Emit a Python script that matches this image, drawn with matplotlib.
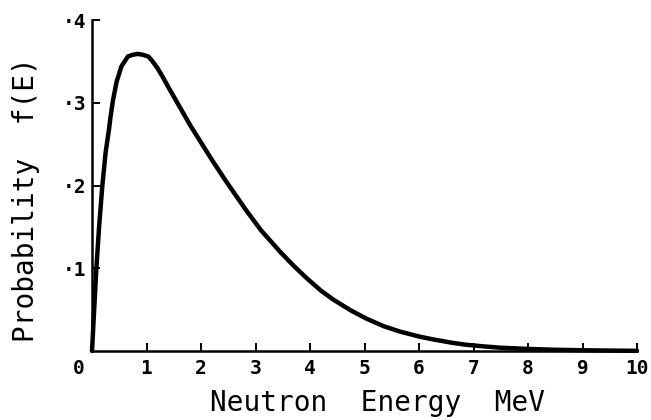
import matplotlib
matplotlib.use("Agg")
import matplotlib.pyplot as plt
from matplotlib.transforms import ScaledTranslation

# fission neutron spectrum
energy = [0.0, 0.04, 0.08, 0.13, 0.19, 0.25, 0.31, 0.34, 0.385, 0.45, 0.54, 0.66,
          0.75, 0.84, 0.93, 1.03, 1.1, 1.2, 1.3, 1.4, 1.6, 1.8, 2.0, 2.2, 2.44,
          2.65, 2.84, 3.1, 3.45, 3.7, 3.94, 4.2, 4.43, 4.75, 5.04, 5.35, 5.65,
          6.0, 6.26, 6.6, 6.87, 7.2, 7.49, 8.0, 8.5, 9.0, 9.5, 10.0]
prob = [0.0, 0.05, 0.10, 0.15, 0.20, 0.24, 0.267, 0.283, 0.303, 0.325, 0.344, 0.356,
        0.358, 0.359, 0.358, 0.356, 0.351, 0.342, 0.331, 0.319, 0.296, 0.273, 0.252, 0.231, 0.207,
        0.187, 0.169, 0.146, 0.120, 0.103, 0.088, 0.073, 0.062, 0.049, 0.039, 0.030, 0.0235,
        0.0175, 0.014, 0.010, 0.0075, 0.0055, 0.004, 0.0025, 0.0015, 0.0009, 0.0005, 0.0002]

x_ticks = list(range(0, 11))
x_labels = [str(t) for t in x_ticks]
y_ticks = [0.1, 0.2, 0.3, 0.4]
y_labels = ["·1", "·2", "·3", "·4"]

mono = "DejaVu Sans Mono"

fig = plt.figure(figsize=(6.51, 4.2), dpi=100)
ax = fig.add_axes([92 / 651, 1 - 351 / 420, 545 / 651, 331 / 420])

ax.plot(energy, prob, color="black", lw=3.2, solid_capstyle="round",
        solid_joinstyle="round", clip_on=False)

ax.set_xlim(0, 10)
ax.set_ylim(0, 0.4)
for s in ("top", "right"):
    ax.spines[s].set_visible(False)
for s in ("left", "bottom"):
    ax.spines[s].set_linewidth(1.8)

ax.set_xticks(x_ticks)
ax.set_xticklabels(x_labels, fontfamily=mono, fontsize=14, fontweight="bold")
ax.set_yticks(y_ticks)
ax.set_yticklabels(y_labels, fontfamily=mono, fontsize=14, fontweight="bold")
ax.tick_params(axis="both", direction="in", length=6, width=1.4, color="black")
ax.tick_params(axis="x", pad=6)
ax.tick_params(axis="y", pad=4)

# the "0" sits left of the origin in the original
zero_label = ax.get_xticklabels()[0]
zero_label.set_transform(zero_label.get_transform()
                         + ScaledTranslation(-0.13, 0, fig.dpi_scale_trans))

ax.set_xlabel("Neutron  Energy  MeV", fontfamily=mono, fontsize=20, va="center")
ax.xaxis.set_label_coords((377 - 92) / 545, (351 - 403) / 331)
ax.set_ylabel("Probability  f(E)", fontfamily=mono, fontsize=20, va="center")
ax.yaxis.set_label_coords((26 - 92) / 545, (351 - 200) / 331)

fig.savefig("out.png", dpi=100)
